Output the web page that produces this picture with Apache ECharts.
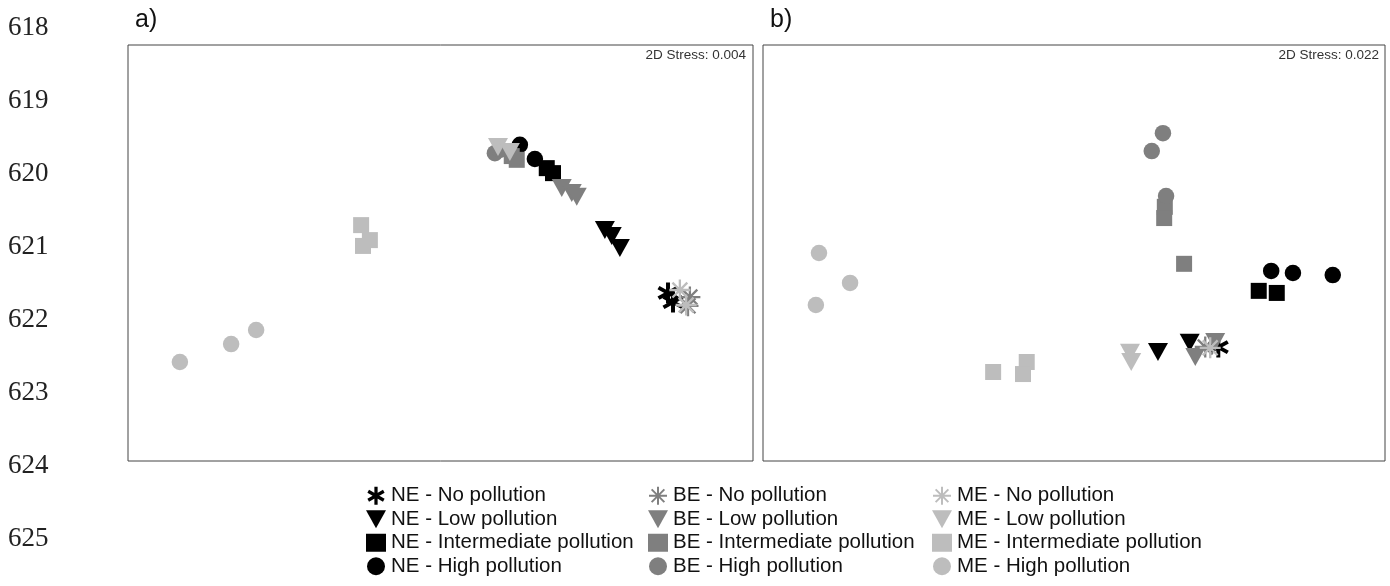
<!DOCTYPE html>
<html><head><meta charset="utf-8">
<script src="https://cdn.jsdelivr.net/npm/echarts@6/dist/echarts.min.js"></script>
<style>html,body{margin:0;padding:0;background:#fff}#c{width:1390px;height:586px}</style>
</head><body><div id="c"></div>
<script>
// Group names (legend order)
const groups = ['NE', 'BE', 'ME'];
const levels = ['No pollution', 'Low pollution', 'Intermediate pollution', 'High pollution'];
const lineNumbers = ['618','619','620','621','622','623','624','625'];
const stressA = '2D Stress: 0.004';
const stressB = '2D Stress: 0.022';

// Panel a) ordination coordinates [x, y]
const a_NE_No   = [[86.4,40.4],[87.2,38.2]];
const a_NE_Low  = [[76.3,55.5],[77.4,54.1],[78.7,51.2]];
const a_NE_Int  = [[67.0,70.4],[68.0,69.2]];
const a_NE_High = [[62.7,76.0],[65.1,72.6]];
const a_BE_No   = [[89.9,39.4],[89.6,37.3]];
const a_BE_Low  = [[69.4,65.6],[71.0,64.4],[71.8,63.5]];
const a_BE_Int  = [[62.2,72.4],[61.4,73.3]];
const a_BE_High = [[58.7,74.0],[59.5,74.8]];
const a_ME_No   = [[88.3,41.1],[89.3,37.5]];
const a_ME_Low  = [[59.2,75.5],[61.1,74.3]];
const a_ME_Int  = [[37.3,56.7],[38.7,53.1],[37.6,51.7]];
const a_ME_High = [[8.3,23.8],[16.5,28.1],[20.5,31.5]];

// Panel b) ordination coordinates [x, y]
const b_NE_No   = [[73.2,27.4]];
const b_NE_Low  = [[63.5,26.2],[68.6,28.4]];
const b_NE_Int  = [[79.7,40.9],[82.6,40.4]];
const b_NE_High = [[81.7,45.7],[85.2,45.2],[91.6,44.7]];
const b_BE_No   = [[71.1,27.4]];
const b_BE_Low  = [[69.5,25.0],[72.7,28.6]];
const b_BE_Int  = [[64.6,61.1],[64.5,58.4],[67.7,47.4]];
const b_BE_High = [[64.3,78.8],[62.5,74.5],[64.8,63.7]];
const b_ME_No   = [[71.9,27.2]];
const b_ME_Low  = [[59.0,26.0],[59.2,23.8]];
const b_ME_Int  = [[37.0,21.4],[42.4,23.8],[41.8,20.9]];
const b_ME_High = [[9.0,50.0],[14.0,42.8],[8.5,37.5]];

const dataA = {NE:[a_NE_No,a_NE_Low,a_NE_Int,a_NE_High], BE:[a_BE_No,a_BE_Low,a_BE_Int,a_BE_High], ME:[a_ME_No,a_ME_Low,a_ME_Int,a_ME_High]};
const dataB = {NE:[b_NE_No,b_NE_Low,b_NE_Int,b_NE_High], BE:[b_BE_No,b_BE_Low,b_BE_Int,b_BE_High], ME:[b_ME_No,b_ME_Low,b_ME_Int,b_ME_High]};

const colors = {NE:'#000000', BE:'#7f7f7f', ME:'#bdbdbd'};

function asterisk(nRects, hw, len){
  let p = '';
  for(let i=0;i<nRects;i++){
    const ang = (nRects===3 ? i*60 : i*45) * Math.PI/180;
    const c = Math.cos(ang), s = Math.sin(ang);
    const pts = [[-hw,-len],[hw,-len],[hw,len],[-hw,len]].map(([x,y])=>[(x*c-y*s).toFixed(2),(x*s+y*c).toFixed(2)]);
    p += 'M'+pts[0].join(',')+' L'+pts[1].join(',')+' L'+pts[2].join(',')+' L'+pts[3].join(',')+' Z ';
  }
  return 'path://' + p;
}
const symNE = asterisk(3, 1.8, 10);
const symStar = asterisk(4, 1.1, 10);
const downTri = 'path://M0,0 L20,0 L10,18 Z';

function symbolFor(g, li){
  if(li===0) return {symbol: g==='NE'?symNE:symStar, symbolSize: 21};
  if(li===1) return {symbol: downTri, symbolSize:[20,18]};
  if(li===2) return {symbol:'rect', symbolSize:16};
  return {symbol:'circle', symbolSize:16.5};
}
function legendIcon(g, li){
  if(li===0) return g==='NE'?symNE:symStar;
  if(li===1) return downTri;
  if(li===2) return 'rect';
  return 'circle';
}

const series = [];
[[dataA,0],[dataB,1]].forEach(([D,gi])=>{
  groups.forEach(g=>{
    levels.forEach((lv,li)=>{
      const s = symbolFor(g,li);
      series.push(Object.assign({
        type:'scatter', name: g+' - '+lv, xAxisIndex:gi, yAxisIndex:gi,
        data: D[g][li], itemStyle:{color:colors[g], opacity:1},
        emphasis:{disabled:true}, animation:false
      }, s));
    });
  });
});

const legends = groups.map((g,i)=>({
  data: levels.map((lv,li)=>({name:g+' - '+lv, icon:legendIcon(g,li)})),
  orient:'vertical', left:[366,648,932][i], top:484, height:100, width:300, padding:0,
  itemWidth:20, itemHeight:18, itemGap:0, selectedMode:false,
  textStyle:{fontFamily:'Liberation Sans', fontSize:20.5, lineHeight:23.5, color:'#111'},
  itemStyle:{opacity:1}
}));

const graphics = lineNumbers.map((t,i)=>({
  type:'text', left:8, top:14 + i*73,
  style:{text:t, font:'27px "Liberation Serif"', fill:'#222'}
}));
graphics.push({type:'text', left:135, top:8, style:{text:'a)', font:'25px "Liberation Sans"', fill:'#111'}});
graphics.push({type:'text', left:770, top:8, style:{text:'b)', font:'25px "Liberation Sans"', fill:'#111'}});
graphics.push({type:'text', right:1390-746, top:48, style:{text:stressA, font:'13.5px "Liberation Sans"', fill:'#333'}});
graphics.push({type:'text', right:1390-1379, top:48, style:{text:stressB, font:'13.5px "Liberation Sans"', fill:'#333'}});

const axisCommon = {type:'value', min:0, max:100, show:false, splitLine:{show:false}};
const chart = echarts.init(document.getElementById('c'), null, {renderer:'canvas'});
chart.setOption({
  animation:false,
  backgroundColor:'#fff',
  grid:[
    {left:128, top:45, width:625, height:416, show:true, borderColor:'#444', borderWidth:1, backgroundColor:'transparent'},
    {left:763, top:45, width:622, height:416, show:true, borderColor:'#444', borderWidth:1, backgroundColor:'transparent'}
  ],
  xAxis:[Object.assign({gridIndex:0},axisCommon), Object.assign({gridIndex:1},axisCommon)],
  yAxis:[Object.assign({gridIndex:0},axisCommon), Object.assign({gridIndex:1},axisCommon)],
  legend: legends,
  graphic: graphics,
  series: series
});
</script></body></html>
